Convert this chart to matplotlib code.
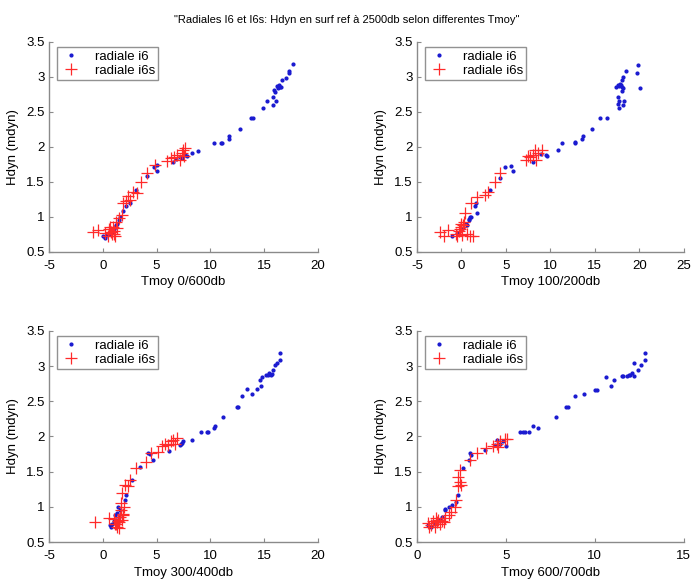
import matplotlib.pyplot as plt

# --- data (Tmoy, Hdyn) ---
# panel 1 : Tmoy 0/600db
i6_x_1 = [17.7, 17.3, 17.3, 17.0, 16.7, 16.4, 16.5, 16.3, 16.6, 16.2, 15.9, 16.0, 15.8, 15.3, 16.1,
          15.8, 14.9, 13.8, 14.0, 12.8, 11.7, 11.7, 11.0, 11.1, 10.3, 8.9, 8.3, 7.8, 7.6, 7.4, 7.2,
          6.8, 6.5, 5.0, 4.8, 5.0, 4.1, 3.1, 2.5, 2.2, 1.9, 1.6, 1.5, 1.3, 1.2, 1.1, 1.0, 0.9, 0.8,
          0.6, 0.4, 0.2, 0.0]
i6_y_1 = [3.18, 3.06, 3.09, 2.98, 2.96, 2.88, 2.85, 2.84, 2.86, 2.87, 2.82, 2.79, 2.72, 2.66, 2.65,
          2.60, 2.55, 2.42, 2.42, 2.25, 2.15, 2.11, 2.06, 2.06, 2.05, 1.94, 1.92, 1.87, 1.88, 1.84, 1.85,
          1.83, 1.78, 1.74, 1.72, 1.66, 1.58, 1.39, 1.20, 1.15, 1.08, 1.00, 0.95, 0.90, 0.88, 0.85, 0.82,
          0.78, 0.80, 0.76, 0.74, 0.70, 0.72]
i6s_x_1 = [-0.88, -0.42, 0.20, 0.51, 0.73, 0.91, 1.04, 1.22, 1.35, 1.53, 1.75, 1.90, 2.15, 2.37, 2.52,
           2.83, 3.14, 3.51, 4.13, 4.85, 5.93, 6.30, 6.64, 6.92, 7.17, 7.32, 7.48, 7.66, 7.54,
           0.55, 0.85, 1.00, 0.70, 1.15]
i6s_y_1 = [0.78, 0.81, 0.77, 0.72, 0.79, 0.86, 0.76, 0.92, 0.84, 0.98, 1.03, 1.20, 1.22, 1.30, 1.24,
           1.36, 1.34, 1.50, 1.63, 1.74, 1.80, 1.84, 1.86, 1.89, 1.82, 1.91, 1.95, 1.98, 1.87,
           0.82, 0.75, 0.80, 0.85, 0.73]

# panel 2 : Tmoy 100/200db
i6_x_2 = [19.9, 19.7, 20.1, 18.5, 18.2, 18.0, 17.4, 17.6, 17.8, 18.0, 18.2, 17.7, 17.9, 18.0, 17.6,
          17.7, 18.3, 18.2, 17.7, 17.6, 15.6, 16.4, 14.7, 13.7, 13.5, 12.75, 12.8, 11.3, 10.9, 9.6,
          9.5, 9.0, 8.1, 5.6, 4.9, 5.8, 4.3, 3.2, 1.6, 1.7, 1.5, 1.0, 0.8, 0.5, 0.2, 0.9, 0.6, 1.1,
          -1.1, -0.5]
i6_y_2 = [3.17, 3.05, 2.84, 3.09, 3.00, 2.96, 2.85, 2.88, 2.90, 2.86, 2.84, 2.87, 2.89, 2.80, 2.72,
          2.66, 2.66, 2.60, 2.55, 2.62, 2.42, 2.42, 2.26, 2.16, 2.12, 2.06, 2.07, 2.05, 1.95, 1.87,
          1.88, 1.90, 1.78, 1.73, 1.72, 1.66, 1.55, 1.38, 1.20, 1.06, 1.15, 1.00, 0.97, 0.90, 0.84,
          0.95, 0.88, 1.00, 0.72, 0.77]
i6s_x_2 = [-2.4, -1.5, -2.0, -0.5, -0.3, 0.0, -0.1, 0.2, 0.4, 1.0, 1.25, 0.6, 1.1, 1.8, 2.6, 3.0, 3.8,
           4.3, 7.3, 7.7, 8.1, 8.3, 8.4, 8.6, 9.1, 7.5, -0.6, 0.1, 0.3, -0.2]
i6s_y_2 = [0.78, 0.81, 0.73, 0.72, 0.80, 0.85, 0.90, 0.88, 1.05, 0.73, 0.73, 0.75, 1.20, 1.29, 1.31, 1.36, 1.50,
           1.63, 1.81, 1.86, 1.89, 1.96, 1.82, 1.91, 1.96, 1.87, 0.76, 0.74, 0.92, 0.82]

# panel 3 : Tmoy 300/400db
i6_x_3 = [16.45, 16.5, 16.2, 16.0, 15.8, 15.2, 15.4, 15.5, 15.7, 15.6, 14.8, 14.6, 14.75, 14.3, 13.4,
          13.85, 12.9, 12.5, 12.6, 11.2, 10.4, 10.3, 9.7, 9.8, 9.1, 8.25, 7.5, 7.3, 7.2, 7.4, 6.2,
          4.2, 4.35, 4.7, 3.45, 2.7, 2.15, 2.06, 1.4, 1.3, 1.6, 1.5, 1.2, 1.0, 0.9, 0.8, 1.1, 0.7]
i6_y_3 = [3.18, 3.09, 3.05, 3.02, 2.95, 2.88, 2.87, 2.90, 2.89, 2.88, 2.85, 2.80, 2.72, 2.67, 2.67,
          2.60, 2.57, 2.42, 2.42, 2.27, 2.15, 2.12, 2.07, 2.07, 2.07, 1.95, 1.93, 1.90, 1.88, 1.91, 1.79,
          1.76, 1.75, 1.67, 1.56, 1.38, 1.17, 1.10, 1.00, 0.91, 0.95, 0.86, 0.82, 0.80, 0.76, 0.72, 0.88, 0.74]
i6s_x_3 = [-0.73, 0.6, 1.1, 1.3, 1.5, 1.8, 1.6, 1.9, 2.0, 1.7, 1.4, 1.2, 1.0, 1.7, 1.75, 2.06, 2.3,
           2.5, 3.1, 4.0, 4.5, 5.15, 5.55, 5.8, 6.1, 6.3, 6.55, 6.86, 6.7, 1.5, 1.9]
i6s_y_3 = [0.79, 0.84, 0.75, 0.72, 0.78, 0.82, 0.85, 0.90, 1.00, 0.95, 0.80, 0.76, 0.83, 1.05, 1.20, 1.31, 1.29,
           1.38, 1.55, 1.64, 1.76, 1.78, 1.86, 1.90, 1.88, 1.93, 1.95, 1.98, 1.90, 0.70, 0.88]

# panel 4 : Tmoy 600/700db
i6_x_4 = [12.8, 12.8, 12.6, 12.4, 12.2, 11.9, 12.0, 12.1, 12.2, 11.6, 11.8, 11.5, 11.1, 10.9, 10.6,
          10.1, 10.0, 9.4, 8.9, 8.4, 8.5, 7.8, 6.8, 6.5, 6.3, 5.8, 5.95, 6.07, 5.0, 4.85, 4.66, 4.4,
          4.5, 3.8, 3.0, 3.05, 2.9, 2.6, 2.3, 2.2, 1.95, 1.8, 1.6, 1.55, 1.4, 1.2, 1.0, 0.8, 0.6,
          1.3, 0.9]
i6_y_4 = [3.18, 3.09, 3.02, 2.95, 3.05, 2.87, 2.88, 2.90, 2.86, 2.86, 2.86, 2.86, 2.81, 2.72, 2.85,
          2.66, 2.66, 2.60, 2.57, 2.42, 2.42, 2.27, 2.12, 2.15, 2.07, 2.07, 2.07, 2.07, 1.87, 1.93, 1.90, 1.88,
          1.95, 1.81, 1.76, 1.74, 1.67, 1.55, 1.17, 1.07, 1.03, 1.00, 0.97, 0.95, 0.86, 0.80, 0.76, 0.72, 0.74,
          0.82, 0.78]
i6s_x_4 = [0.6, 0.8, 0.9, 1.0, 1.1, 1.2, 1.3, 1.4, 1.6, 1.8, 1.9, 2.13, 2.2, 2.3, 2.42, 2.47, 2.32,
           2.42, 2.98, 3.35, 3.9, 4.3, 4.5, 4.66, 4.57, 4.95, 5.04, 0.7, 1.05, 1.5]
i6s_y_4 = [0.77, 0.74, 0.80, 0.72, 0.78, 0.82, 0.76, 0.80, 0.84, 0.88, 0.92, 1.00, 1.10, 1.29, 1.36, 1.31, 1.43,
           1.53, 1.67, 1.76, 1.83, 1.86, 1.90, 1.93, 1.85, 1.97, 1.97, 0.72, 0.84, 0.78]

panels = [
    (i6_x_1, i6_y_1, i6s_x_1, i6s_y_1, 'Tmoy 0/600db', (-5, 20), [-5, 0, 5, 10, 15, 20]),
    (i6_x_2, i6_y_2, i6s_x_2, i6s_y_2, 'Tmoy 100/200db', (-5, 25), [-5, 0, 5, 10, 15, 20, 25]),
    (i6_x_3, i6_y_3, i6s_x_3, i6s_y_3, 'Tmoy 300/400db', (-5, 20), [-5, 0, 5, 10, 15, 20]),
    (i6_x_4, i6_y_4, i6s_x_4, i6s_y_4, 'Tmoy 600/700db', (0, 15), [0, 5, 10, 15]),
]
yticks = [0.5, 1, 1.5, 2, 2.5, 3, 3.5]
ytick_labels = ['0.5', '1', '1.5', '2', '2.5', '3', '3.5']

plt.rcParams['font.family'] = ['Liberation Sans', 'DejaVu Sans']
plt.rcParams['axes.unicode_minus'] = False

fig = plt.figure(figsize=(6.93, 5.83), dpi=100)

# axes rectangles in figure fractions (left, bottom, width, height)
rects = [
    (0.0707, 0.568, 0.388, 0.360),
    (0.6017, 0.568, 0.385, 0.360),
    (0.0707, 0.0703, 0.388, 0.362),
    (0.6017, 0.0703, 0.385, 0.362),
]

for rect, (xb, yb, xr, yr, xlabel, xlim, xticks) in zip(rects, panels):
    ax = fig.add_axes(rect)
    ax.plot(xb, yb, linestyle='none', marker='.', markersize=4, color='#1a1ad0', label='radiale i6')
    ax.plot(xr, yr, linestyle='none', marker='+', markersize=9, markeredgewidth=0.9,
            color='#ff2a2a', label='radiale i6s')
    ax.set_xlim(*xlim)
    ax.set_ylim(0.5, 3.5)
    ax.set_xticks(xticks)
    ax.set_yticks(yticks)
    ax.set_yticklabels(ytick_labels)
    ax.set_xlabel(xlabel, fontsize=9.5, labelpad=3)
    ax.set_ylabel('Hdyn (mdyn)', fontsize=9.5, labelpad=5)
    for s in ['top', 'right']:
        ax.spines[s].set_visible(False)
    for s in ['left', 'bottom']:
        ax.spines[s].set_color('#8a8a8a')
        ax.spines[s].set_linewidth(1.0)
    ax.tick_params(direction='in', length=3, width=0.8, color='#8a8a8a', labelsize=9.5)
    ax.tick_params(axis='x', pad=6)
    ax.tick_params(axis='y', pad=3)
    leg = ax.legend(loc='upper left', bbox_to_anchor=(0.03, 0.975), borderaxespad=0,
                    fontsize=9.5, frameon=True, fancybox=False, handlelength=1.6,
                    handletextpad=1.0, borderpad=0.25, labelspacing=0.15)
    leg.get_frame().set_edgecolor('#777777')
    leg.get_frame().set_linewidth(1.0)

fig.text(0.5, 0.966, '"Radiales I6 et I6s: Hdyn en surf ref à 2500db selon differentes Tmoy"',
         ha='center', va='center', fontsize=8)

fig.savefig('out.png', dpi=100)
